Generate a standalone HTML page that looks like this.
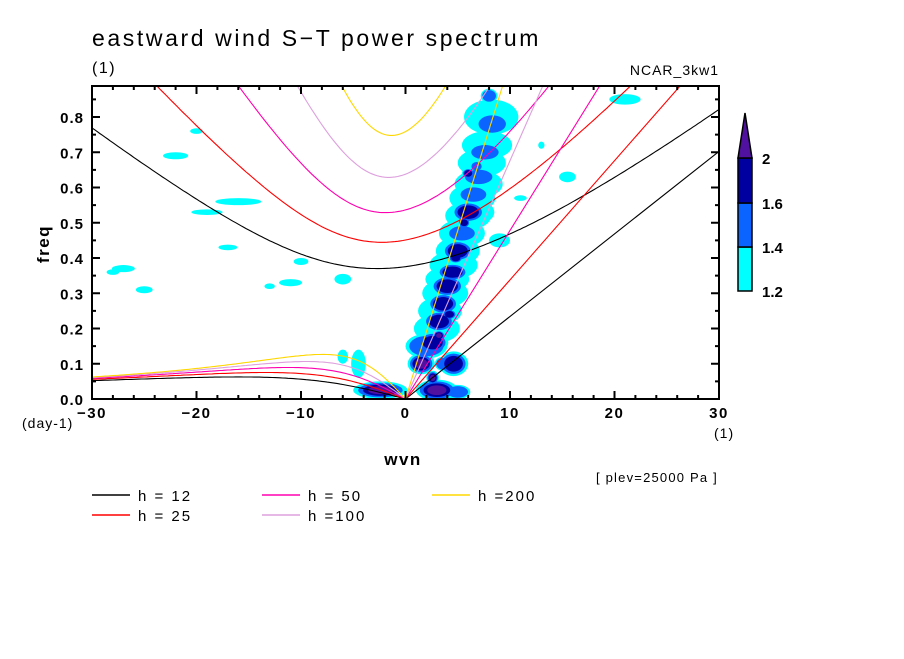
<!DOCTYPE html>
<html><head><meta charset="utf-8"><style>
body{margin:0;background:#fff;}
svg text{font-family:"Liberation Sans",sans-serif;}
</style></head><body>
<svg id="chart" width="904" height="654" viewBox="0 0 904 654" xmlns="http://www.w3.org/2000/svg">
<rect width="904" height="654" fill="#fff"/>
<text x="92" y="46" font-size="23" letter-spacing="2.6">eastward wind S−T power spectrum</text>
<text x="92" y="73" font-size="16" letter-spacing="1.5">(1)</text>
<text x="719" y="75" font-size="14" letter-spacing="1" text-anchor="end">NCAR_3kw1</text>
<defs><clipPath id="pc"><rect x="92" y="86" width="627" height="313"/></clipPath></defs>
<g id="shades" clip-path="url(#pc)"></g>
<g id="curves" clip-path="url(#pc)"></g>
<rect x="92" y="86" width="627" height="313" fill="none" stroke="#000" stroke-width="2"/>
<g id="axes"></g>
<text x="49" y="244" font-size="17" font-weight="bold" letter-spacing="1.5" transform="rotate(-90 49 244)" text-anchor="middle">freq</text>
<text x="22" y="428" font-size="14" letter-spacing="1">(day-1)</text>
<text x="714" y="438" font-size="14" letter-spacing="1">(1)</text>
<text x="403" y="465" font-size="17" font-weight="bold" letter-spacing="1.5" text-anchor="middle">wvn</text>
<text x="596" y="482" font-size="13" letter-spacing="1.2">[ plev=25000 Pa ]</text>
<g id="colorbar"></g>
<g id="legend"></g>
</svg>
<script>
const depths=[12,25,50,100,200];
const depthColors=["#000000","#ff0000","#ff00b0","#dda0dd","#ffd700"];
const depthLabels=["h = 12","h = 25","h = 50","h =100","h =200"];
const xTicks=[-30,-20,-10,0,10,20,30];
const yTicks=[0,0.1,0.2,0.3,0.4,0.5,0.6,0.7,0.8];
const levelColors=["#00ffff","#0a64ff","#0000a0","#5010a0"];
const levelValues=[1.2,1.4,1.6,2];
// blobs: [wavenumber, freq, radius-k, radius-f, level]
const blobK=[-2.4,3,1.5,4.6,-4.5,2,3,3.3,3.8,4,4.6,5,5.4,6,6.4,7,7.3,7.8,8.2,2.6,3.2,3.6,4,4.5,5,5.4,6,6.5,7,7.6,8.3,2.6,3.2,4.2,4.8,5.6,6,6.8,8,5,7.2,3.6,9,13,15.5,21,-27,-16,-19,-6,-11,-17,-22,-10,-25,-28,-13,-20,11,-6];
const blobF=[0.025,0.025,0.1,0.1,0.1,0.15,0.2,0.25,0.3,0.34,0.38,0.42,0.47,0.52,0.57,0.61,0.67,0.72,0.8,0.16,0.22,0.27,0.32,0.36,0.42,0.47,0.53,0.58,0.63,0.7,0.78,0.06,0.18,0.24,0.4,0.5,0.64,0.66,0.86,0.02,0.53,0.1,0.45,0.72,0.63,0.85,0.37,0.56,0.53,0.34,0.33,0.43,0.69,0.39,0.31,0.36,0.32,0.76,0.57,0.12];
const blobRK=[2.6,2,1.3,1.4,0.7,2,2.2,2.1,2.2,2.1,2.3,2.1,2.2,2.2,2.2,2.3,2.3,2.4,2.6,1.5,1.5,1.5,1.6,1.5,1.5,1.5,1.6,1.5,1.6,1.6,1.6,0.6,0.6,0.7,0.7,0.6,0.6,0.6,0.8,1.2,1.3,0.8,1,0.3,0.8,1.5,1.1,2.2,1.5,0.8,1.1,0.9,1.2,0.7,0.8,0.6,0.5,0.6,0.6,0.5];
const blobRF=[0.025,0.03,0.03,0.035,0.04,0.035,0.04,0.04,0.04,0.035,0.04,0.04,0.04,0.04,0.04,0.04,0.04,0.04,0.05,0.03,0.03,0.03,0.03,0.025,0.03,0.025,0.03,0.025,0.025,0.025,0.03,0.02,0.015,0.015,0.015,0.015,0.015,0.015,0.02,0.02,0.03,0.02,0.02,0.01,0.015,0.015,0.01,0.01,0.008,0.015,0.01,0.008,0.01,0.01,0.01,0.008,0.008,0.008,0.008,0.02];
const blobL=[4,4,4,3,1,2,1,1,1,1,1,1,1,1,1,1,1,1,1,3,3,3,3,3,3,2,3,2,2,2,2,4,4,3,3,3,3,2,2,2,1,2,1,1,1,1,1,1,1,1,1,1,1,1,1,1,1,1,1,1];

const NS="http://www.w3.org/2000/svg";
const X0=92,X1=719,Y0=399,YT=86;
function X(k){return X0+(k+30)*(X1-X0)/60;}
function Y(f){return Y0-f*352.5;}
function mk(tag,attrs,parent){const e=document.createElementNS(NS,tag);for(const a in attrs)e.setAttribute(a,attrs[a]);parent.appendChild(e);return e;}

const sh=document.getElementById('shades');
for(let lev=1;lev<=4;lev++){
  for(let i=0;i<blobK.length;i++){
    if(blobL[i]<lev)continue;
    const s=1-(lev-1)*0.18;
    const e=mk('ellipse',{cx:X(blobK[i]),cy:Y(blobF[i]),rx:blobRK[i]*10.45*s,ry:blobRF[i]*352.5*s,fill:levelColors[lev-1]},sh);
    
    
  }
}

const a=6.371e6,beta=2.29e-11,g=9.81;
function cpd(w){return w*86400/(2*Math.PI);}
function igFreq(k,c){
  const km=k/a;let w=Math.sqrt(km*km*c*c+3*beta*c)*1.2;
  for(let it=0;it<50;it++){const F=w*w*w-c*c*(km*km+3*beta/c)*w-beta*km*c*c;const d=3*w*w-c*c*(km*km+3*beta/c);w-=F/d;}
  return cpd(w);
}
function erFreq(k,c){const km=k/a;return cpd(-beta*km/(km*km+3*beta/c));}
const cv=document.getElementById('curves');
depths.forEach((h,i)=>{
  const c=Math.sqrt(g*h);
  let ig="",er="";
  for(let k=-30;k<=30.001;k+=0.25){ig+=(ig?"L":"M")+X(k).toFixed(1)+","+Y(igFreq(k,c)).toFixed(1);}
  for(let k=-30;k<=0.001;k+=0.25){er+=(er?"L":"M")+X(k).toFixed(1)+","+Y(erFreq(k,c)).toFixed(1);}
  const kel="M"+X(0)+","+Y(0)+"L"+X(30)+","+Y(cpd(30*c/a)).toFixed(1);
  [["ig",ig],["er",er],["kelvin",kel]].forEach(p=>{
    const e=mk('path',{d:p[1],fill:"none",stroke:depthColors[i],"stroke-width":1.1},cv);
    
    
  });
});

const ax=document.getElementById('axes');
for(let k=-30;k<=30;k+=2){
  const maj=k%10===0,L=maj?8:4;
  mk('line',{x1:X(k),y1:Y0,x2:X(k),y2:Y0-L,stroke:"#000","stroke-width":2},ax);
  mk('line',{x1:X(k),y1:YT,x2:X(k),y2:YT+L,stroke:"#000","stroke-width":2},ax);
}
for(let f=0;f<=0.88;f+=0.05){
  const maj=Math.round(f*20)%2===0,L=maj?8:4;
  mk('line',{x1:X0,y1:Y(f),x2:X0+L,y2:Y(f),stroke:"#000","stroke-width":2},ax);
  mk('line',{x1:X1,y1:Y(f),x2:X1-L,y2:Y(f),stroke:"#000","stroke-width":2},ax);
}
xTicks.forEach(k=>{
  const t=mk('text',{x:X(k),y:418,"font-size":15,"font-weight":"bold","letter-spacing":1.5,"text-anchor":"middle"},ax);
  t.textContent=k<0?"−"+(-k):String(k);
  
  
});
yTicks.forEach(f=>{
  const t=mk('text',{x:84,y:Y(f)+6,"font-size":15,"font-weight":"bold","letter-spacing":1,"text-anchor":"end"},ax);
  t.textContent=f.toFixed(1);
  
  
});

const cb=document.getElementById('colorbar');
const cbTop=[247,203,158];
for(let i=0;i<3;i++){
  const r=mk('rect',{x:738,y:cbTop[i],width:14,height:(i===0?44:(i===1?44:45)),fill:levelColors[i],stroke:"#000","stroke-width":1.5},cb);
  
  
}
const tri=mk('polygon',{points:"738,158 752,158 745,113",fill:levelColors[3],stroke:"#000","stroke-width":1.5},cb);


const cbY=[297,253,209,164];
levelValues.forEach((v,i)=>{
  const t=mk('text',{x:762,y:cbY[i],"font-size":15,"font-weight":"bold"},cb);
  t.textContent=String(v);
  
  
});

const lg=document.getElementById('legend');
const lx=[92,262,432,92,262],ly=[495,495,495,515,515];
const order=[0,2,4,1,3];
order.forEach((di,j)=>{
  const g=mk('g',{},lg);
  
  
  mk('line',{x1:lx[j],y1:ly[j],x2:lx[j]+38,y2:ly[j],stroke:depthColors[di],"stroke-width":1.5},g);
  const t=mk('text',{x:lx[j]+46,y:ly[j]+6,"font-size":15,"letter-spacing":2},g);
  t.textContent=depthLabels[di];
});
</script>
</body></html>
